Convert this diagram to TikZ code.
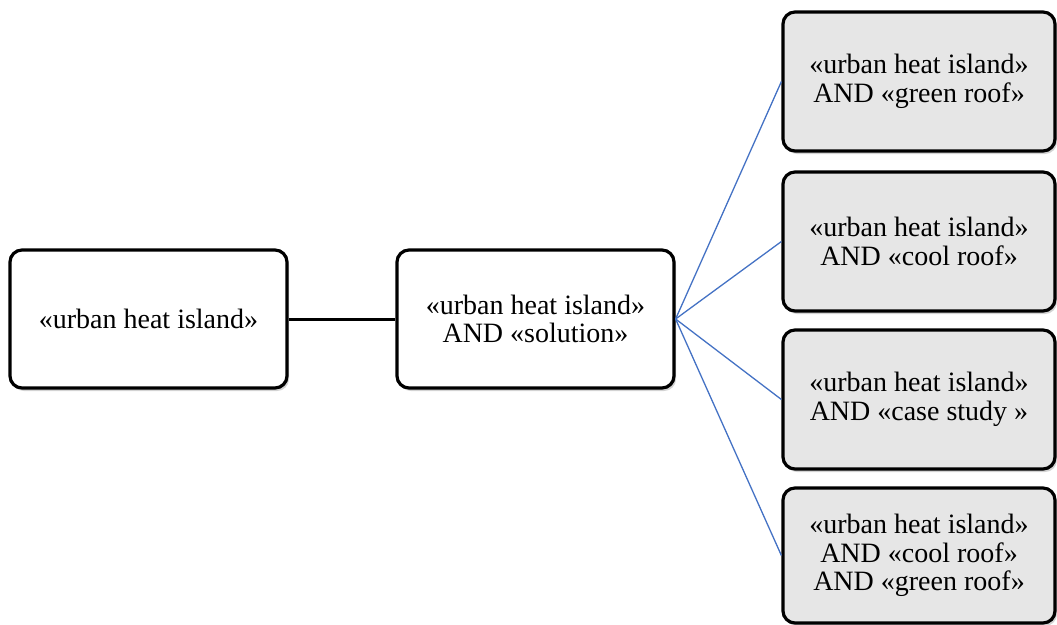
\documentclass[tikz,border=0pt]{standalone}
\usepackage{fontspec}
\setmainfont{Liberation Serif}
\usepackage{tikz}
\usetikzlibrary{positioning, shadows}
\definecolor{linkblue}{RGB}{68,114,196}
\definecolor{boxgray}{RGB}{230,230,230}

\begin{document}
\begin{tikzpicture}[x=1pt, y=1pt,
  term/.style={draw, line width=3.2pt, rounded corners=12pt, align=center,
    minimum width=277pt, minimum height=138pt, fill=white,
    font=\fontsize{28}{28.5}\selectfont,
    drop shadow={shadow xshift=2pt, shadow yshift=-3pt, opacity=0.35}},
  subterm/.style={term, fill=boxgray, minimum width=272pt, minimum height=139pt},
  link/.style={linkblue, line width=1.3pt}]
\useasboundingbox (0,0) rectangle (1057,-624);

% main search terms
\node[term] (uhi) at (148.5,-319) {«urban heat island»};
\node[term] (sol) at (535.5,-319) {«urban heat island»\\AND «solution»};

% refined queries
\node[subterm] (green) at (919,-81.5) {«urban heat island»\\AND «green roof»};
\node[subterm] (cool) at (919,-241.5) {«urban heat island»\\AND «cool roof»};
\node[subterm] (case) at (919,-399.5) {«urban heat island»\\AND «case study »};
\node[subterm, minimum height=135pt] (both) at (919,-555.5) {«urban heat island»\\AND «cool roof»\\AND «green roof»};

% connectors
\draw[line width=3pt] (uhi) -- (sol);
\foreach \q in {green, cool, case, both}
  \draw[link] (sol.east) -- (\q.west);
\end{tikzpicture}
\end{document}
